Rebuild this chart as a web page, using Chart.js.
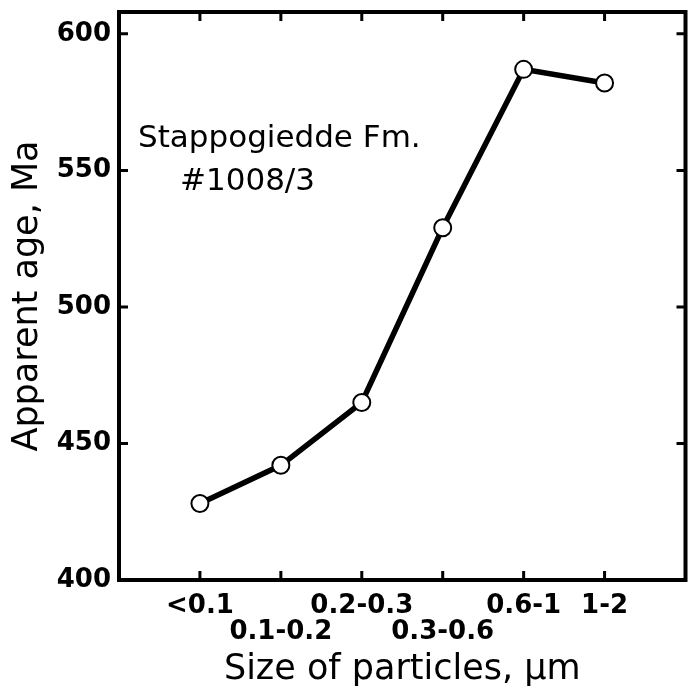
<!DOCTYPE html>
<html>
<head>
<meta charset="utf-8">
<script src="https://cdn.jsdelivr.net/npm/chart.js@4"></script>
<style>
  html, body { margin: 0; padding: 0; background: #fff; overflow: hidden; }
  #wrap { width: 696px; height: 690px; }
  canvas { display: block; }
</style>
</head>
<body>
<div id="wrap"><canvas id="ageChart" width="696" height="690"></canvas></div>
<script>
// particle size fractions and apparent ages (Ma)
const sizes = ['<0.1', '0.1-0.2', '0.2-0.3', '0.3-0.6', '0.6-1', '1-2'];
const ages = [428, 442, 465, 529, 587, 582];
const yTicks = [400, 450, 500, 550, 600];
const sampleLabel = ['Stappogiedde Fm.', '#1008/3'];

const points = sizes.map((s, i) => ({ x: i, y: ages[i] }));

// drop the label overhang padding so the plot box fills the page like the original
function noOverhang(s) {
  s.paddingTop = 0;
  s.paddingBottom = 0;
  s.paddingLeft = 0;
  s.paddingRight = 0;
}

// Frame box + inward ticks on all four sides
const framePlugin = {
  id: 'frame',
  afterDraw(chart) {
    const { ctx, chartArea: a, scales } = chart;
    ctx.save();
    ctx.strokeStyle = '#000';
    ctx.lineWidth = 4;
    ctx.strokeRect(a.left, a.top, a.right - a.left, a.bottom - a.top);
    ctx.lineWidth = 3;
    const len = 9;
    yTicks.forEach(v => {
      const py = scales.y.getPixelForValue(v);
      ctx.beginPath();
      ctx.moveTo(a.left, py); ctx.lineTo(a.left + len, py);
      ctx.moveTo(a.right, py); ctx.lineTo(a.right - len, py);
      ctx.stroke();
    });
    sizes.forEach((s, i) => {
      const px = scales.x.getPixelForValue(i);
      ctx.beginPath();
      ctx.moveTo(px, a.bottom); ctx.lineTo(px, a.bottom - len);
      ctx.moveTo(px, a.top); ctx.lineTo(px, a.top + len);
      ctx.stroke();
    });
    // sample annotation
    ctx.fillStyle = '#000';
    ctx.font = '31px "DejaVu Sans"';
    ctx.textBaseline = 'alphabetic';
    ctx.textAlign = 'left';
    ctx.fillText(sampleLabel[0], a.left + 19, a.top + 135);
    ctx.fillText(sampleLabel[1], a.left + 61, a.top + 178);
    ctx.restore();
  }
};

new Chart(document.getElementById('ageChart'), {
  type: 'line',
  data: {
    datasets: [{
      data: points,
      borderColor: '#000',
      borderWidth: 5.5,
      pointRadius: 8.5,
      pointBorderWidth: 2,
      pointBackgroundColor: '#fff',
      pointBorderColor: '#000',
      tension: 0
    }]
  },
  options: {
    responsive: false,
    animation: false,
    layout: { padding: { top: 12, right: 5, left: 0, bottom: 0 } },
    plugins: { legend: { display: false }, tooltip: { enabled: false } },
    scales: {
      x: {
        type: 'linear',
        min: -1,
        max: 6,
        afterFit: s => { s.height = 110; noOverhang(s); },
        grid: { display: false, drawTicks: false },
        border: { display: false },
        ticks: {
          stepSize: 1,
          padding: 13,
          autoSkip: false,
          maxRotation: 0,
          color: '#000',
          font: { family: 'DejaVu Sans', size: 26, weight: 'bold', lineHeight: 1 },
          callback: v => {
            const lbl = sizes[v];
            if (lbl === undefined) return '';
            return v % 2 === 0 || v === 5 ? [lbl, ''] : ['', lbl];
          }
        },
        title: {
          display: true,
          text: 'Size of particles, \u00b5m',
          color: '#000',
          font: { family: 'DejaVu Sans', size: 35, lineHeight: 1 },
          padding: { top: 0, bottom: 3 }
        }
      },
      y: {
        min: 400,
        max: 608,
        afterFit: s => { s.width = 119; noOverhang(s); },
        grid: { display: false, drawTicks: false },
        border: { display: false },
        ticks: {
          stepSize: 50,
          includeBounds: false,
          padding: 8,
          color: '#000',
          font: { family: 'DejaVu Sans', size: 26, weight: 'bold' },
          callback: v => (v % 50 === 0 ? v : '')
        },
        title: {
          display: true,
          text: 'Apparent age, Ma',
          color: '#000',
          font: { family: 'DejaVu Sans', size: 35, lineHeight: 1 },
          padding: { top: 10, bottom: 0 }
        }
      }
    }
  },
  plugins: [framePlugin]
});
</script>
</body>
</html>
